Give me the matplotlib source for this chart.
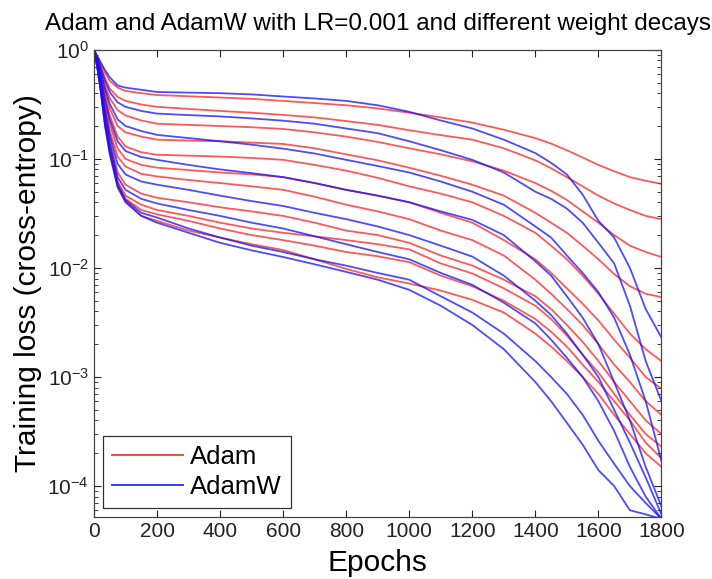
import matplotlib
matplotlib.use('Agg')
import matplotlib.pyplot as plt
from matplotlib.ticker import LogLocator, NullFormatter, FixedLocator

plt.rcParams['font.family'] = ['Liberation Sans', 'DejaVu Sans']
plt.rcParams['axes.unicode_minus'] = False

epochs = [0, 10, 20, 35, 50, 75, 100, 150, 200, 300, 400, 500, 600, 700, 800,
          900, 1000, 1100, 1200, 1300, 1400, 1450, 1500, 1550, 1600, 1650,
          1700, 1750, 1800]

# Adam (red), top to bottom
adam_1 = [1, .87, .76, .62, .52, .45, .42, .40, .385, .375, .365, .355, .34, .325, .31, .29, .265, .24, .215,
          .185, .155, .138, .12, .103, .088, .077, .068, .063, .059]
adam_2 = [1, .85, .72, .55, .44, .37, .34, .315, .30, .287, .275, .265, .253, .24, .222, .205, .183, .165, .15,
          .125, .097, .082, .068, .056, .046, .039, .034, .030, .028]
adam_3 = [1, .83, .67, .47, .36, .28, .25, .225, .21, .205, .20, .195, .188, .175, .16, .143, .125, .11, .095,
          .078, .06, .051, .042, .033, .026, .020, .016, .014, .0126]
adam_4 = [1, .81, .63, .41, .29, .20, .175, .16, .15, .147, .145, .141, .137, .125, .11, .097, .083, .07, .058,
          .046, .032, .026, .021, .016, .012, .0088, .0068, .0058, .0054]
adam_5 = [1, .80, .60, .37, .25, .16, .13, .115, .109, .107, .105, .102, .098, .088, .078, .067, .056, .048, .04,
          .03, .021, .016, .012, .0085, .0058, .0038, .0025, .0018, .0014]
adam_6 = [1, .78, .56, .33, .21, .125, .10, .088, .083, .079, .075, .072, .068, .06, .052, .046, .04, .032, .026,
          .018, .012, .009, .0065, .0047, .0033, .0022, .0015, .001, .00078]
adam_7 = [1, .77, .54, .30, .18, .105, .085, .073, .069, .064, .06, .056, .052, .045, .038, .033, .028, .022, .018,
          .013, .0078, .0058, .0042, .003, .002, .0013, .0009, .0006, .00045]
adam_8 = [1, .75, .50, .26, .15, .075, .058, .048, .044, .04, .036, .033, .030, .026, .022, .020, .017, .013, .0105,
          .0078, .0055, .0042, .003, .0021, .0014, .0009, .0006, .0004, .0003]
adam_9 = [1, .73, .48, .23, .13, .062, .046, .038, .034, .03, .026, .023, .021, .0195, .018, .0165, .0148, .011, .0089,
          .0065, .0045, .0034, .0024, .0016, .0011, .0007, .00045, .0003, .00023]
adam_10 = [1, .72, .47, .22, .125, .060, .043, .034, .031, .027, .023, .02, .018, .016, .014, .0128, .0113, .0085, .0068,
           .005, .0034, .0026, .0019, .0013, .0009, .0006, .0004, .00025, .00018]
adam_11 = [1, .70, .45, .205, .115, .056, .041, .030, .027, .022, .019, .0165, .0146, .012, .0098, .0082, .0072, .0062, .0051,
           .0039, .0025, .0019, .0014, .001, .0007, .00045, .0003, .0002, .00015]

# AdamW (blue), top to bottom
adamw_1 = [1, .88, .78, .65, .56, .47, .45, .43, .41, .405, .40, .39, .373, .358, .34, .31, .27, .225, .19,
           .15, .113, .092, .072, .047, .027, .019, .010, .0042, .0023]
adamw_2 = [1, .85, .70, .52, .41, .33, .30, .275, .26, .252, .245, .235, .224, .21, .19, .172, .145, .12, .098,
           .075, .05, .043, .035, .026, .017, .011, .0045, .0014, .0006]
adamw_3 = [1, .82, .65, .44, .32, .23, .20, .18, .166, .155, .145, .135, .124, .112, .098, .086, .075, .062, .05,
           .038, .024, .019, .013, .009, .006, .0035, .0016, .0006, .00017]
adamw_4 = [1, .79, .58, .35, .23, .145, .118, .104, .098, .088, .08, .074, .068, .06, .052, .046, .04, .033, .0276,
           .02, .0115, .0085, .0055, .0035, .002, .0009, .0004, .00015, .000065]
adamw_5 = [1, .76, .52, .28, .165, .09, .072, .062, .058, .052, .046, .041, .037, .032, .028, .024, .020, .016, .0127,
           .0085, .005, .0037, .0025, .0016, .001, .0005, .00025, .00012, .000055]
adamw_6 = [1, .74, .49, .25, .14, .068, .052, .043, .039, .034, .03, .026, .023, .0195, .0165, .014, .012, .009, .007,
           .0048, .0031, .0022, .0015, .001, .0006, .00032, .00015, .00008, .00005]
adamw_7 = [1, .71, .46, .21, .12, .058, .042, .032, .029, .023, .019, .016, .014, .012, .0105, .009, .0078, .0055, .0039,
           .0025, .0014, .001, .0007, .00045, .00026, .00016, .0001, .00007, .00005]
adamw_8 = [1, .70, .45, .20, .11, .055, .040, .030, .026, .021, .017, .0145, .0126, .0108, .0092, .0078, .0063, .0045, .003,
           .0018, .0009, .0006, .00038, .00024, .00014, .0001, .00006, .000055, .00005]

adam_curves = [adam_1, adam_2, adam_3, adam_4, adam_5, adam_6, adam_7, adam_8, adam_9, adam_10, adam_11]
adamw_curves = [adamw_1, adamw_2, adamw_3, adamw_4, adamw_5, adamw_6, adamw_7, adamw_8]

x_ticks = [0, 200, 400, 600, 800, 1000, 1200, 1400, 1600, 1800]

fig = plt.figure(figsize=(7.12, 5.79), dpi=100)
ax = fig.add_axes([0.132, 0.107, 0.797, 0.807])

for i, y in enumerate(adam_curves):
    ax.plot(epochs, y, color='#ff2020', lw=1.3, alpha=0.75,
            label='Adam' if i == 0 else None)
for i, y in enumerate(adamw_curves):
    ax.plot(epochs, y, color='#1010ff', lw=1.3, alpha=0.75,
            label='AdamW' if i == 0 else None)

ax.set_yscale('log')
ax.set_xlim(0, 1800)
ax.set_ylim(5.2e-5, 1)
ax.xaxis.set_major_locator(FixedLocator(x_ticks))
ax.yaxis.set_major_locator(LogLocator(base=10))
ax.yaxis.set_minor_locator(LogLocator(base=10, subs=range(2, 10)))
ax.yaxis.set_minor_formatter(NullFormatter())

ax.tick_params(which='both', direction='in', top=True, right=True,
               labelsize=15, colors='#222222')
ax.tick_params(which='major', length=5, width=0.8)
ax.tick_params(which='minor', length=3, width=0.6)
for s in ax.spines.values():
    s.set_color('#444444')
    s.set_linewidth(0.9)

ax.set_title('Adam and AdamW with LR=0.001 and different weight decays',
             fontsize=17.5, pad=14)
ax.set_xlabel('Epochs', fontsize=21.5, labelpad=6)
ax.set_ylabel('Training loss (cross-entropy)', fontsize=21.5, labelpad=4)

leg = ax.legend(loc='lower left', bbox_to_anchor=(0.016, 0.019),
                borderaxespad=0, fontsize=18.5, handlelength=2.75,
                handletextpad=0.3, borderpad=0.35, labelspacing=0.25,
                fancybox=False, framealpha=1, edgecolor='#333333')
leg.get_frame().set_linewidth(0.9)
for h in leg.get_lines():
    h.set_alpha(0.9)

fig.savefig('out.png', dpi=100)
